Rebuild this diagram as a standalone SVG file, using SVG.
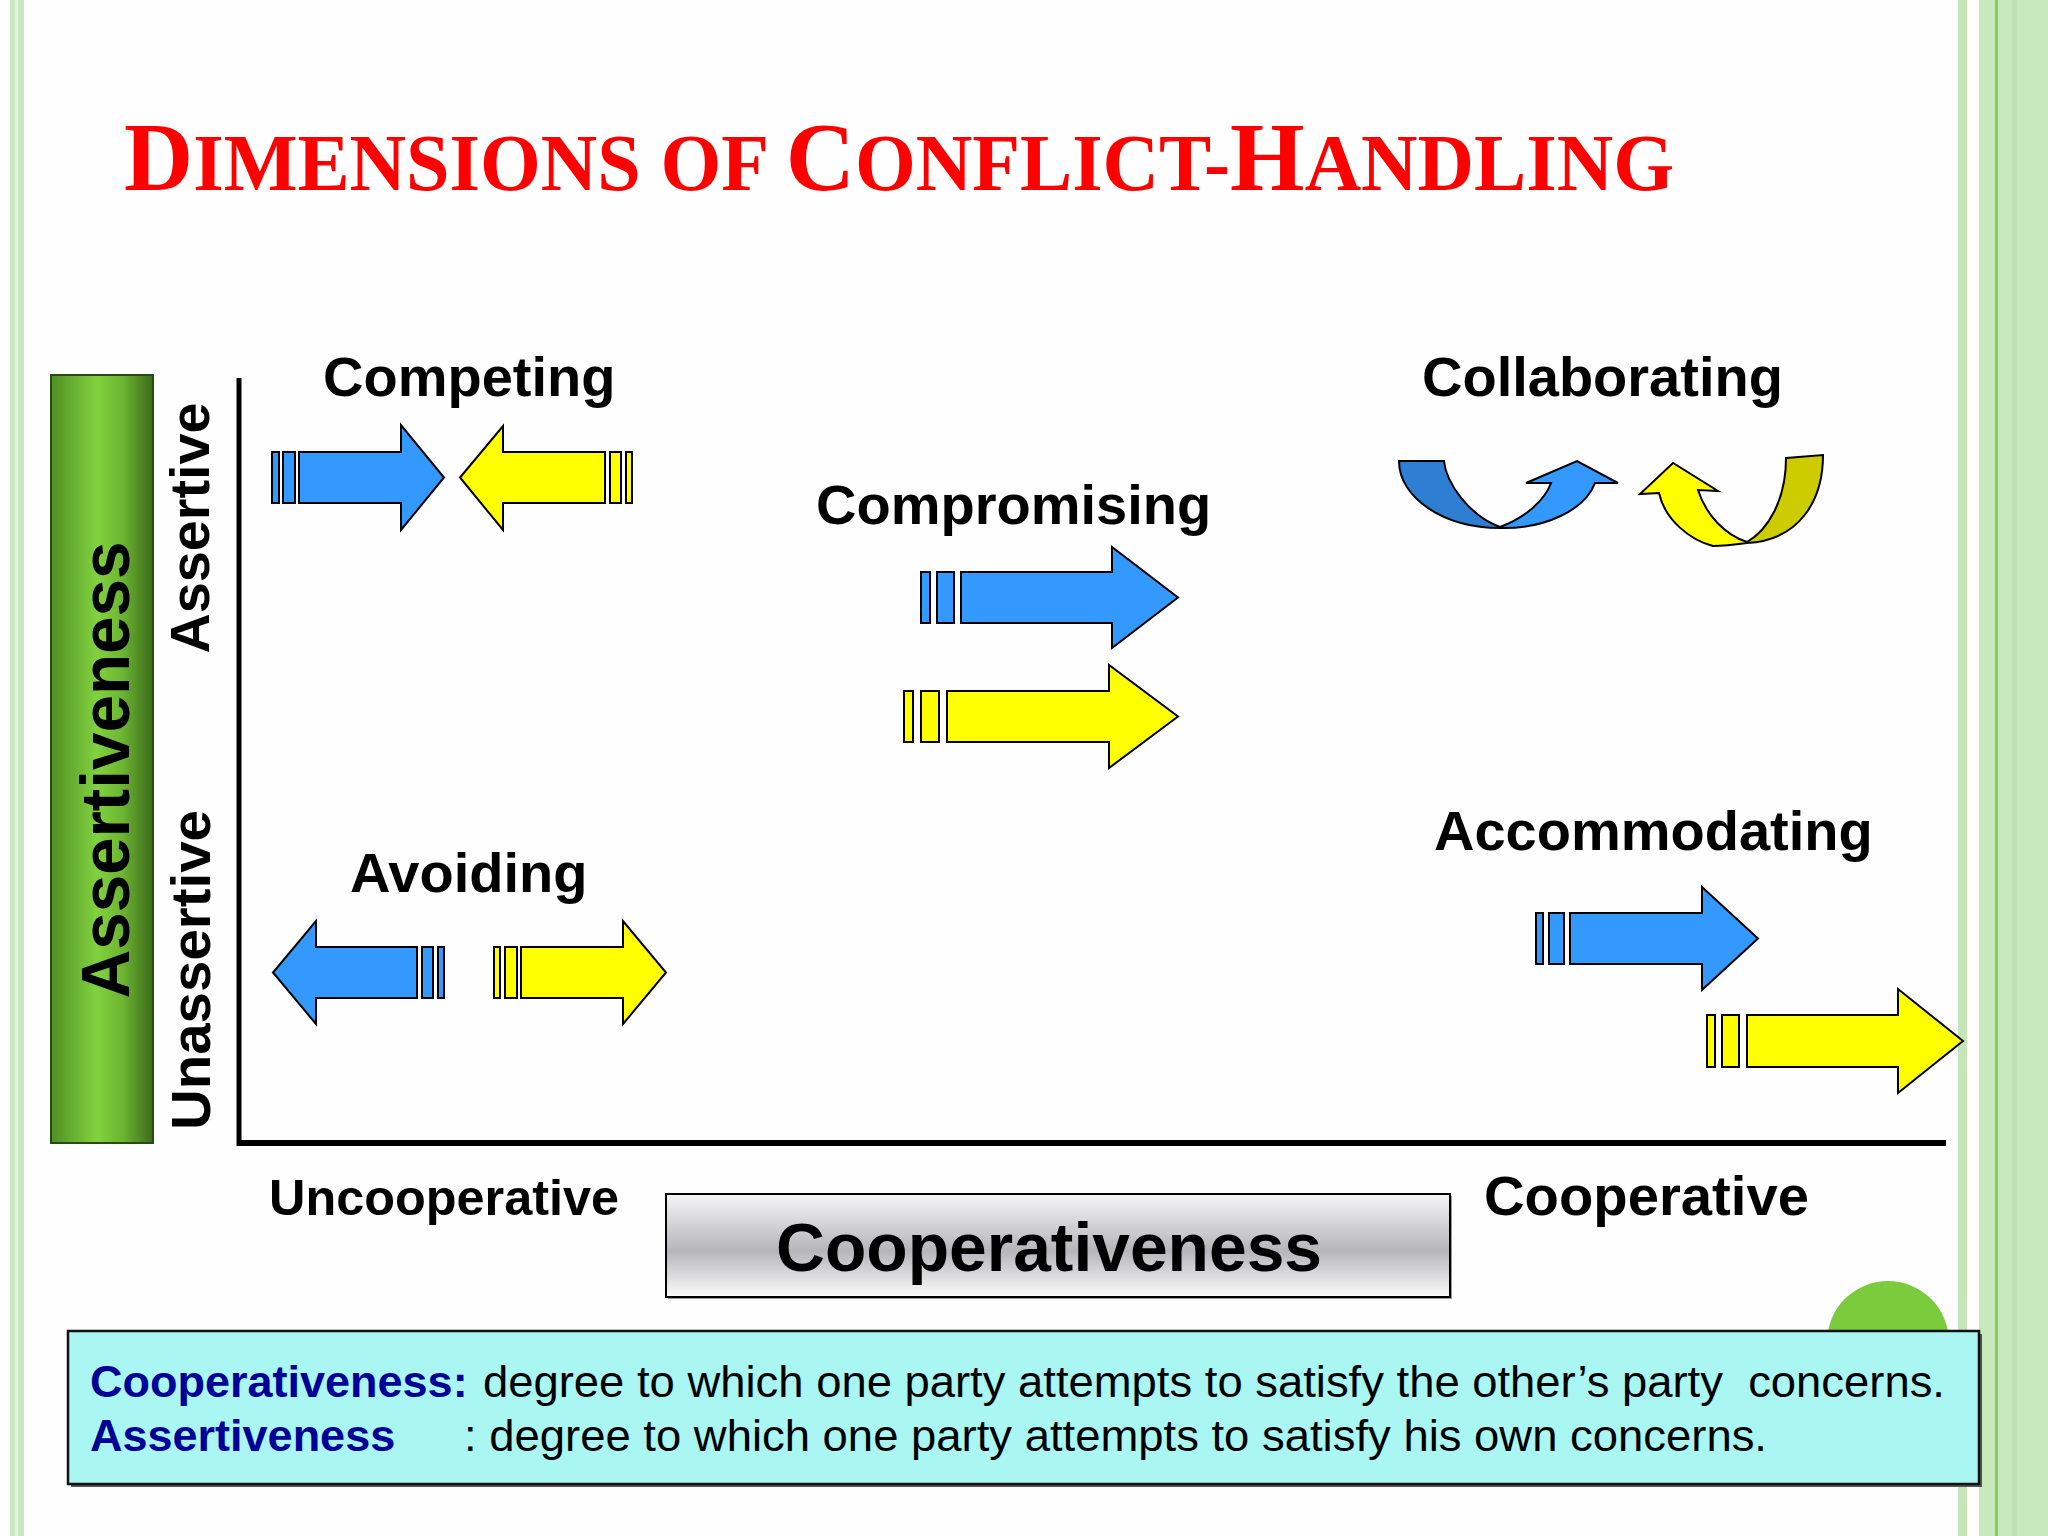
<svg xmlns="http://www.w3.org/2000/svg" width="2048" height="1536" viewBox="0 0 2048 1536">
<defs>
<linearGradient id="gBar" x1="0" y1="0" x2="1" y2="0">
<stop offset="0" stop-color="#4f8f24"/>
<stop offset="0.45" stop-color="#82d23f"/>
<stop offset="0.7" stop-color="#6cb532"/>
<stop offset="1" stop-color="#3b6b1a"/>
</linearGradient>
<linearGradient id="gBox" x1="0" y1="0" x2="0" y2="1">
<stop offset="0" stop-color="#f6f6f8"/>
<stop offset="0.55" stop-color="#b6b6ba"/>
<stop offset="1" stop-color="#fbfbfb"/>
</linearGradient>
<style>
.lbl{font-family:"Liberation Sans",Arial,sans-serif;font-weight:bold;fill:#000}
.blue{fill:#3399ff;stroke:#000;stroke-width:2;stroke-linejoin:miter}
.dblue{fill:#2e7fd4;stroke:#000;stroke-width:2}
.yel{fill:#ffff00;stroke:#000;stroke-width:2;stroke-linejoin:miter}
.olive{fill:#cccc00;stroke:#000;stroke-width:2}
.def{font-family:"Liberation Sans",Arial,sans-serif;font-size:45px}
</style>
</defs>
<rect x="0" y="0" width="2048" height="1536" fill="#fefefe"/>
<!-- border stripes -->
<g id="frame">
<rect x="10" y="0" width="14" height="1536" fill="#c9e8bf"/>
<rect x="15" y="0" width="3" height="1536" fill="#e2f3dc"/>
<rect x="1958" y="0" width="9" height="1536" fill="#c6e6ba"/>
<rect x="1979" y="0" width="69" height="1536" fill="#c8e9bb"/>
<rect x="1995" y="0" width="3" height="1536" fill="#86cc62"/>
<rect x="2012" y="0" width="5" height="1536" fill="#c0e2b2"/>
</g>
<g id="title">
<text x="124" y="190" font-family="'Liberation Serif','Times New Roman',serif" font-weight="bold" fill="#ff0000" textLength="1550" lengthAdjust="spacingAndGlyphs"><tspan font-size="98">D</tspan><tspan font-size="80">IMENSIONS OF </tspan><tspan font-size="98">C</tspan><tspan font-size="80">ONFLICT-</tspan><tspan font-size="98">H</tspan><tspan font-size="80">ANDLING</tspan></text>
</g>
<g id="assertiveness-bar">
<rect x="51" y="375" width="102" height="768" fill="url(#gBar)" stroke="#2a4a14" stroke-width="2"/>
<text class="lbl" font-size="68" text-anchor="middle" textLength="457" lengthAdjust="spacingAndGlyphs" transform="translate(129,770) rotate(-90)">Assertiveness</text>
</g>
<g id="axis-labels">
<text class="lbl" font-size="56" text-anchor="middle" textLength="251" lengthAdjust="spacingAndGlyphs" transform="translate(209,528) rotate(-90)">Assertive</text>
<text class="lbl" font-size="56" text-anchor="middle" textLength="320" lengthAdjust="spacingAndGlyphs" transform="translate(210,970) rotate(-90)">Unassertive</text>
<text class="lbl" x="269" y="1215" font-size="50" textLength="350" lengthAdjust="spacingAndGlyphs">Uncooperative</text>
<text class="lbl" x="1484" y="1215" font-size="56" textLength="325" lengthAdjust="spacingAndGlyphs">Cooperative</text>
</g>
<g id="axes">
<line x1="239" y1="378" x2="239" y2="1146" stroke="#000" stroke-width="5"/>
<line x1="237" y1="1143" x2="1946" y2="1143" stroke="#000" stroke-width="6"/>
</g>
<g id="competing">
<text class="lbl" x="323" y="396" font-size="56">Competing</text>
<rect class="blue" x="272" y="452" width="7" height="51"/>
<rect class="blue" x="283" y="452" width="12" height="51"/>
<polygon class="blue" points="299,452 401,452 401,425 444,477.5 401,530 401,503 299,503"/>
<polygon class="yel" points="605,452 503,452 503,426 460,477.5 503,530 503,503 605,503"/>
<rect class="yel" x="610" y="452" width="11" height="51"/>
<rect class="yel" x="626" y="452" width="6" height="51"/>
</g>
<g id="compromising">
<text class="lbl" x="816" y="524" font-size="56">Compromising</text>
<rect class="blue" x="921" y="572" width="9" height="51"/>
<rect class="blue" x="937" y="572" width="17" height="51"/>
<polygon class="blue" points="961,572 1112,572 1112,547 1178,597.5 1112,648 1112,623 961,623"/>
<rect class="yel" x="904" y="691" width="9" height="51"/>
<rect class="yel" x="921" y="691" width="18" height="51"/>
<polygon class="yel" points="947,691 1109,691 1109,665 1178,716.5 1109,768 1109,742 947,742"/>
</g>
<g id="collaborating">
<text class="lbl" x="1422" y="396" font-size="56">Collaborating</text>
<path class="dblue" d="M1399,461 L1444,461 C1446,482 1468,515 1500,527 L1500,528 C1444,528 1399,498 1399,461 Z"/>
<path class="blue" d="M1500,528 C1545,529 1585,510 1595,483 L1618,483 L1577,461 L1526,483 L1551,483 C1545,500 1525,518 1500,527 Z"/>
<path class="olive" d="M1786,458 L1823,455 C1823,500 1800,540 1747,543 L1747,542 C1768,530 1786,500 1786,458 Z"/>
<path class="yel" d="M1747,543 C1725,546 1713,546 1713,546 C1690,540 1665,520 1659,493 L1640,494 L1673,463 L1718,491 L1698,490 C1706,515 1725,535 1747,542 Z"/>
</g>
<g id="avoiding">
<text class="lbl" x="350" y="892" font-size="56">Avoiding</text>
<polygon class="blue" points="417,947 316,947 316,921 273,972.5 316,1024 316,998 417,998"/>
<rect class="blue" x="422" y="947" width="11" height="51"/>
<rect class="blue" x="438" y="947" width="6" height="51"/>
<rect class="yel" x="494" y="947" width="6" height="51"/>
<rect class="yel" x="505" y="947" width="12" height="51"/>
<polygon class="yel" points="521,947 623,947 623,921 666,972.5 623,1024 623,998 521,998"/>
</g>
<g id="accommodating">
<text class="lbl" x="1434" y="850" font-size="56">Accommodating</text>
<rect class="blue" x="1536" y="913" width="7" height="51"/>
<rect class="blue" x="1549" y="913" width="15" height="51"/>
<polygon class="blue" points="1570,913 1702,913 1702,887 1758,938.5 1702,990 1702,964 1570,964"/>
<rect class="yel" x="1707" y="1015" width="8" height="52"/>
<rect class="yel" x="1722" y="1015" width="17" height="52"/>
<polygon class="yel" points="1747,1015 1898,1015 1898,989 1963,1041 1898,1093 1898,1067 1747,1067"/>
</g>
<g id="cooperativeness-box">
<rect x="668" y="1196" width="784" height="103" fill="#9a9a9a"/>
<rect x="666" y="1194" width="784" height="103" fill="url(#gBox)" stroke="#000" stroke-width="2"/>
<text class="lbl" x="776" y="1271" font-size="68" textLength="546" lengthAdjust="spacingAndGlyphs">Cooperativeness</text>
</g>
<g id="deco-circle">
<circle cx="1888" cy="1342" r="61" fill="#7acc3c"/>
</g>
<g id="definitions">
<rect x="71" y="1334" width="1911" height="153" fill="#555"/>
<rect x="68" y="1331" width="1911" height="153" fill="#aaf6f2" stroke="#111" stroke-width="2.5"/>
<text class="def" x="90" y="1397" font-weight="bold" fill="#000099">Cooperativeness:</text>
<text class="def" x="483" y="1397" fill="#000" xml:space="preserve" textLength="1462" lengthAdjust="spacingAndGlyphs">degree to which one party attempts to satisfy the other’s party  concerns.</text>
<text class="def" x="90" y="1451" font-weight="bold" fill="#000099">Assertiveness</text>
<text class="def" x="464" y="1451" fill="#000" textLength="1303" lengthAdjust="spacingAndGlyphs">: degree to which one party attempts to satisfy his own concerns.</text>
</g>
</svg>
